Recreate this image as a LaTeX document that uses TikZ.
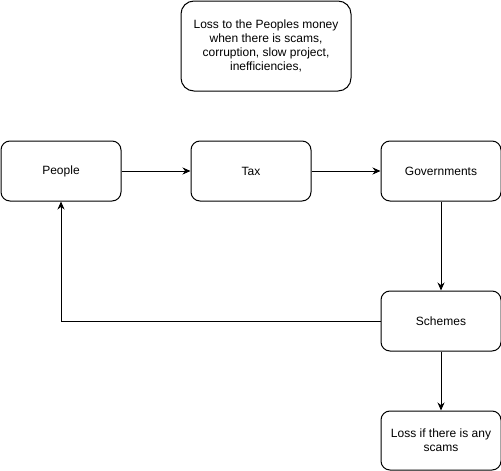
\documentclass[tikz,border=0pt]{standalone}
\usepackage{fontspec}
\setmainfont{Liberation Sans}
\usepackage{tikz}
\usetikzlibrary{arrows.meta}

\begin{document}
\begin{tikzpicture}[x=1pt, y=-1pt,
    box/.style={draw, line width=1pt, rounded corners=9pt, minimum width=120pt, minimum height=60pt, inner sep=0pt, align=center, font=\fontsize{12}{14}\selectfont},
    link/.style={line width=1pt, -{Stealth[length=8pt, width=7pt]}}]
    \useasboundingbox (0, 0) rectangle (501, 471);

    \node[box, minimum width=170pt, minimum height=90pt, rounded corners=13pt] at (266, 46) (note) {Loss to the Peoples money\\when there is scams,\\corruption, slow project,\\inefficiencies,};
    \node[box] at (61, 171) (people) {People};
    \node[box] at (251, 171) (tax) {Tax};
    \node[box] at (441, 171) (gov) {Governments};
    \node[box] at (441, 321) (schemes) {Schemes};
    \node[box, minimum height=59pt] at (441, 440.5) (loss) {Loss if there is any\\scams};

    \draw[link] (people) -- (tax);
    \draw[link] (tax) -- (gov);
    \draw[link] (gov) -- (schemes);
    \draw[link] (schemes) -- (loss);
    \draw[link] (schemes.west) -| (people.south);
\end{tikzpicture}
\end{document}
